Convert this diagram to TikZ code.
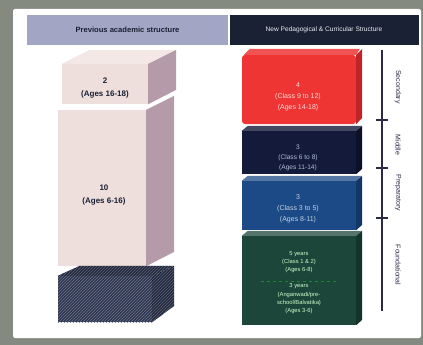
\documentclass[tikz,border=0pt]{standalone}
\usepackage{fontspec}
\setmainfont{Liberation Sans}
\usetikzlibrary{patterns}
\definecolor{frameC}{HTML}{858A80}
\definecolor{hdrL}{HTML}{A2A5C3}
\definecolor{hdrR}{HTML}{1A2134}
\definecolor{pinkF}{HTML}{EEDFDC}
\definecolor{pinkT}{HTML}{F3E8E6}
\definecolor{pinkS}{HTML}{B59AAA}
\definecolor{darkF}{HTML}{2C3650}
\definecolor{darkS}{HTML}{222A40}
\definecolor{redF}{HTML}{EE3533}
\definecolor{redS}{HTML}{C02428}
\definecolor{navyF}{HTML}{141A3A}
\definecolor{navyS}{HTML}{0C1028}
\definecolor{blueF}{HTML}{1B4A86}
\definecolor{blueS}{HTML}{123666}
\definecolor{greenF}{HTML}{1C4639}
\definecolor{greenS}{HTML}{13342A}
\definecolor{axisC}{HTML}{2A2946}
\tikzset{
  face/.style={draw=none, inner sep=0pt},
  ltxt/.style={inner sep=0pt, align=center, text=hdrR, font=\fontsize{8}{12.5}\selectfont\bfseries},
  rtxt/.style={inner sep=0pt, align=center, font=\fontsize{7}{11}\selectfont},
  gtxt/.style={inner sep=0pt, align=center, text=green!20!white, font=\fontsize{5.8}{8.3}\selectfont},
  axlab/.style={rotate=-90, inner sep=0pt, text=axisC, font=\fontsize{7}{8}\selectfont},
  tick/.style={axisC, line width=1.6pt}
}
\begin{document}
\begin{tikzpicture}[x=1pt,y=-1pt]
\useasboundingbox (0,0) rectangle (423,345);
\fill[frameC] (0,0) rectangle (423,345);
\fill[white, rounded corners=2pt] (13,9) rectangle (421,338);

% headers
\node[inner sep=0pt, fill=hdrL, text=hdrR, minimum width=201pt, minimum height=30pt,
      font=\fontsize{7.6}{9}\selectfont\bfseries] (hl) at (127.5,30) {Previous academic structure};
\node[inner sep=0pt, fill=hdrR, text=white!80!hdrL, minimum width=189pt, minimum height=30pt,
      font=\fontsize{6.6}{8}\selectfont] (hr) at (324,30) {New Pedagogical \& Curricular Structure};

% left column
\node[face, fill=pinkF, minimum width=86pt, minimum height=40pt] (l1) at (105,84) {};
\fill[pinkT] (l1.north west) -- ++(28,-14) -- ++(86,0) -- (l1.north east) -- cycle;
\fill[pinkS] (l1.north east) -- ++(28,-14) -- ++(0,40) -- (l1.south east) -- cycle;
\node[ltxt] (l1t) at (105,88) {2\\(Ages 16-18)};

\node[face, fill=pinkF, minimum width=88pt, minimum height=156pt] (l2) at (102,188) {};
\fill[pinkS] (l2.north east) -- ++(28,-14) -- ++(0,156) -- (l2.south east) -- cycle;
\node[ltxt] (l2t) at (104,195) {10\\(Ages 6-16)};

\node[face, fill=darkF, minimum width=94pt, minimum height=46pt,
      postaction={pattern=north east lines, pattern color=hdrL!70!black}] (l3) at (105,299) {};
\fill[darkS] (l3.north west) -- ++(22,-10) -- ++(94,0) -- (l3.north east) -- cycle;
\fill[pattern=north east lines, pattern color=hdrL!60!black] (l3.north west) -- ++(22,-10) -- ++(94,0) -- (l3.north east) -- cycle;
\fill[darkS] (l3.north east) -- ++(22,-10) -- ++(0,40) -- (l3.south east) -- cycle;
\fill[pattern=north east lines, pattern color=hdrL!60!black] (l3.north east) -- ++(22,-10) -- ++(0,40) -- (l3.south east) -- cycle;

% right column
\node[face, fill=redF, minimum width=114pt, minimum height=69pt, rounded corners=3pt] (r1) at (299,89.5) {};
\fill[redF!85!white] ([xshift=2pt]r1.north west) -- ++(6,-6) -- ++(110,0) -- (r1.north east) -- cycle;
\fill[redS] (r1.north east) -- ++(6,-6) -- ++(0,69) -- (r1.south east) -- cycle;
\node[rtxt, text=white!82!redF] (r1t) at (298,97) {4\\(Class 9 to 12)\\(Ages 14-18)};

\node[face, fill=navyF, minimum width=114pt, minimum height=43pt] (r2) at (299,152.5) {};
\fill[navyF!80!white] (r2.north west) -- ++(6,-5) -- ++(114,0) -- (r2.north east) -- cycle;
\fill[navyS] (r2.north east) -- ++(6,-5) -- ++(0,43) -- (r2.south east) -- cycle;
\node[rtxt, text=blueF!35!white, font=\fontsize{6.6}{10}\selectfont] (r2t) at (298,158) {3\\(Class 6 to 8)\\(Ages 11-14)};

\node[face, fill=blueF, minimum width=114pt, minimum height=49pt] (r3) at (299,205.5) {};
\fill[blueF!75!white] (r3.north west) -- ++(6,-5) -- ++(114,0) -- (r3.north east) -- cycle;
\fill[blueS] (r3.north east) -- ++(6,-5) -- ++(0,49) -- (r3.south east) -- cycle;
\node[rtxt, text=blueF!25!white] (r3t) at (298,209) {3\\(Class 3 to 5)\\(Ages 8-11)};

\node[face, fill=greenF, minimum width=114pt, minimum height=89pt] (r4) at (299,280.5) {};
\fill[greenF!75!white] (r4.north west) -- ++(6,-5) -- ++(114,0) -- (r4.north east) -- cycle;
\fill[greenS] (r4.north east) -- ++(6,-5) -- ++(0,89) -- (r4.south east) -- cycle;
\node[gtxt] (g1) at (299,262) {5 years\\(Class 1 \& 2)\\(Ages 6-8)};
\node[gtxt] (g2) at (299,299) {3 years\\(Anganwadi/pre-\\school/Balvatika)\\(Ages 3-6)};
\draw[green!40!greenF, dashed, line width=0.4pt] ([xshift=-38pt]r4.center |- 0,281) coordinate (d1) -- ([xshift=38pt]r4.center |- 0,281) coordinate (d2);

% stage axis
\coordinate (at) at (382,50);
\coordinate (ab) at (382,311);
\draw[axisC, line width=2.6pt] (at) -- (ab);
\coordinate (t1) at (382,120);
\coordinate (t2) at (382,168);
\coordinate (t3) at (382,218);
\draw[tick] ([xshift=-6pt]t1) -- ([xshift=6pt]t1);
\draw[tick] ([xshift=-6pt]t2) -- ([xshift=6pt]t2);
\draw[tick] ([xshift=-6pt]t3) -- ([xshift=6pt]t3);
\node[axlab] (s1) at (398,87) {Secondary};
\node[axlab] (s2) at (398,145) {Middle};
\node[axlab] (s3) at (398,193) {Preparatory};
\node[axlab] (s4) at (398,265) {Foundational};
\end{tikzpicture}
\end{document}
